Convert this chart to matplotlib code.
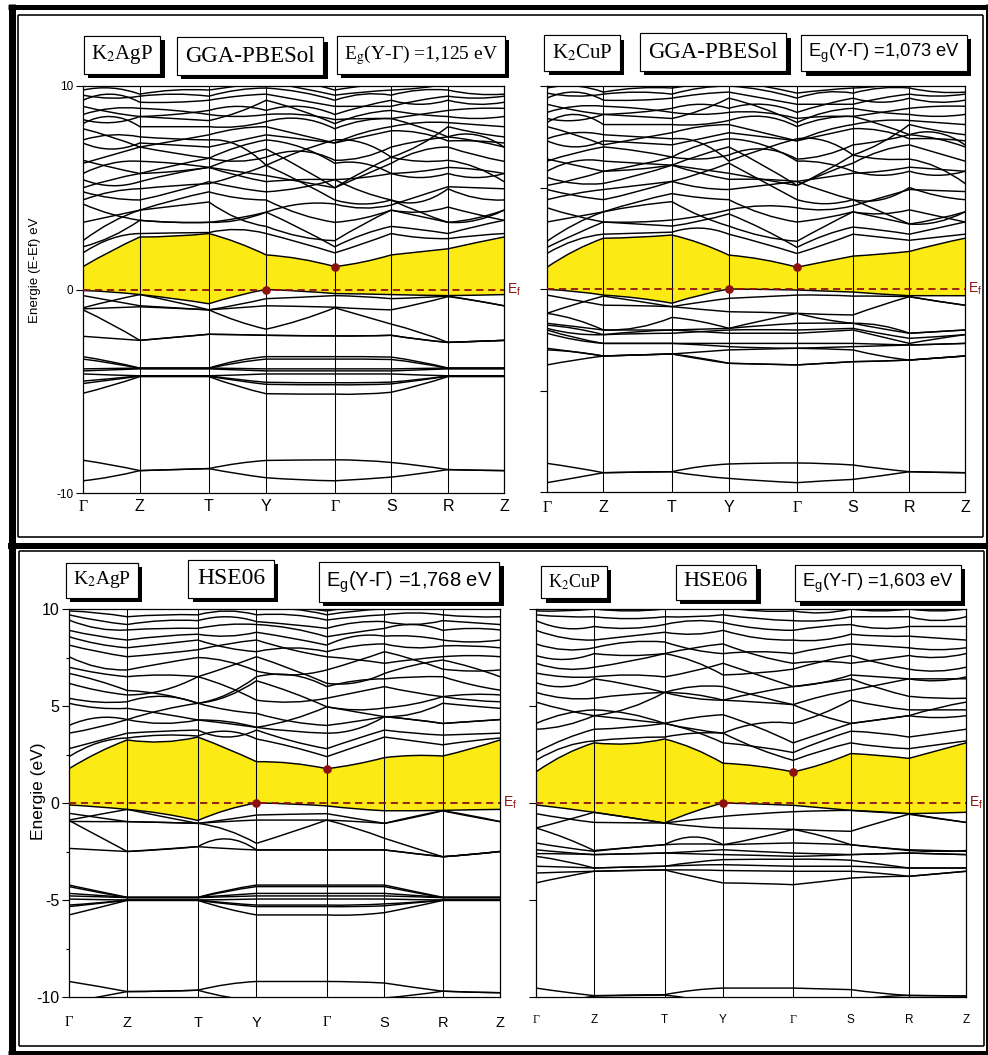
import matplotlib
matplotlib.use("Agg")
import matplotlib.pyplot as plt
from matplotlib.path import Path
from matplotlib.patches import PathPatch
from matplotlib.lines import Line2D
import matplotlib.patheffects as pe
import matplotlib.transforms as mtransforms
from matplotlib.ticker import MultipleLocator

plt.rcParams['font.family'] = ['Liberation Sans', 'DejaVu Sans']
plt.rcParams['mathtext.fontset'] = 'custom'
plt.rcParams['mathtext.rm'] = 'Liberation Sans'
plt.rcParams['mathtext.it'] = 'Liberation Sans:italic'
plt.rcParams['mathtext.bf'] = 'Liberation Sans:bold'

# ---------------------------------------------------------------------------
# k-path (fractional distance along the path) and labels
K_FRAC = [0.0, 0.135, 0.299, 0.435, 0.598, 0.732, 0.867, 1.0]
K_LABELS = ['Γ', 'Z', 'T', 'Y', 'Γ', 'S', 'R', 'Z']

# band gaps (eV), Y -> Gamma
EG_AGP_GGA = 1.125
EG_CUP_GGA = 1.073
EG_AGP_HSE = 1.768
EG_CUP_HSE = 1.603

# Each band: energies at Γ, mid, Z, mid, T, mid, Y, mid, Γ, mid, S, mid, R, mid, Z
# ---------------------------------------------------------------- K2AgP GGA
AGP_GGA_CB = [
    [EG_AGP_GGA, 1.90, 2.58, 2.62, 2.75, 2.30, 1.70, 1.50, EG_AGP_GGA, 1.35, 1.70, 1.85, 2.00, 2.30, 2.58],
    [1.80, 2.50, 2.75, 2.78, 2.80, 2.95, 2.75, 2.30, 1.80, 2.25, 2.75, 2.55, 2.50, 2.65, 2.75],
    [2.10, 2.60, 3.40, 3.30, 3.30, 3.40, 3.80, 3.00, 2.10, 2.70, 3.10, 2.95, 2.75, 3.10, 3.40],
    [2.40, 3.30, 3.90, 4.10, 4.30, 3.50, 3.10, 2.60, 2.40, 3.20, 3.90, 3.60, 3.30, 3.50, 3.90],
    [3.30, 3.60, 3.90, 4.40, 4.80, 4.50, 4.40, 3.70, 3.30, 3.50, 3.90, 3.80, 4.05, 3.70, 3.40],
    [4.20, 3.70, 3.40, 3.30, 3.30, 3.50, 3.80, 4.20, 4.20, 4.00, 4.15, 4.60, 5.05, 5.00, 4.95],
    [4.40, 4.80, 4.95, 5.10, 5.20, 5.60, 6.10, 5.30, 4.40, 4.20, 4.40, 3.80, 3.30, 3.40, 3.90],
    [4.80, 4.50, 4.40, 4.80, 5.30, 5.00, 4.80, 5.00, 5.40, 5.50, 5.70, 5.80, 6.00, 5.90, 5.70],
    [5.00, 5.40, 5.70, 5.80, 6.00, 5.60, 5.30, 5.40, 5.40, 4.80, 4.40, 4.30, 4.95, 4.50, 4.40],
    [5.40, 5.10, 5.30, 5.70, 6.00, 6.50, 6.90, 6.00, 5.00, 5.80, 6.50, 6.30, 6.35, 6.00, 5.30],
    [5.70, 6.20, 6.30, 6.20, 6.00, 5.80, 5.60, 5.30, 5.00, 5.60, 6.20, 6.80, 7.00, 6.60, 6.30],
    [6.20, 6.60, 7.00, 6.70, 6.45, 6.30, 6.50, 6.80, 6.35, 6.50, 7.00, 7.30, 7.50, 7.30, 7.00],
    [6.35, 6.00, 5.70, 6.10, 6.45, 7.00, 7.35, 7.00, 6.20, 6.20, 5.70, 5.50, 5.70, 5.50, 5.70],
    [7.20, 6.90, 7.20, 7.10, 7.00, 7.30, 7.60, 7.40, 7.20, 7.50, 7.80, 7.70, 7.30, 7.30, 7.20],
    [7.35, 7.60, 7.50, 7.40, 7.35, 7.10, 6.10, 6.80, 7.35, 7.20, 6.50, 7.10, 8.00, 7.70, 7.50],
    [7.90, 7.50, 7.00, 7.30, 7.60, 7.90, 8.00, 7.60, 7.20, 7.70, 8.00, 8.20, 8.20, 8.10, 8.00],
    [8.15, 8.50, 8.00, 8.00, 8.00, 8.00, 8.25, 8.40, 7.90, 8.30, 8.40, 8.00, 7.50, 7.60, 7.00],
    [8.35, 8.20, 8.50, 8.40, 8.30, 8.70, 9.30, 8.80, 8.15, 8.60, 8.80, 8.60, 8.50, 8.40, 8.50],
    [8.60, 8.90, 8.90, 8.80, 8.60, 8.50, 8.60, 8.60, 8.35, 8.40, 8.40, 8.60, 8.80, 8.90, 8.90],
    [9.00, 8.70, 8.50, 8.60, 8.80, 9.00, 8.80, 9.00, 8.60, 9.00, 9.30, 9.10, 9.30, 9.10, 9.20],
    [9.30, 9.60, 9.20, 9.20, 9.30, 9.50, 9.60, 9.30, 9.00, 9.00, 9.00, 9.30, 9.50, 9.40, 9.50],
    [9.55, 9.40, 9.50, 9.60, 9.50, 9.80, 9.90, 9.70, 9.30, 9.60, 9.55, 9.80, 9.80, 9.60, 9.60],
    [9.80, 9.90, 9.60, 9.80, 9.80, 10.0, 10.2, 9.90, 9.55, 9.70, 9.80, 9.90, 10.1, 10.0, 10.1],
    [10.1, 10.2, 10.1, 10.0, 10.1, 10.2, 10.4, 10.2, 9.80, 10.0, 10.1, 10.2, 10.3, 10.2, 10.1],
]
AGP_GGA_VB = [
    [-0.05, -0.12, -0.25, -0.45, -0.70, -0.30, 0.00, -0.08, -0.20, -0.22, -0.25, -0.28, -0.30, -0.28, -0.25],
    [-0.30, -0.55, -0.80, -0.90, -1.00, -0.75, -0.45, -0.38, -0.30, -0.35, -0.45, -0.40, -0.32, -0.55, -0.80],
    [-0.90, -0.55, -0.25, -0.60, -1.00, -1.55, -1.95, -1.50, -0.90, -1.30, -1.70, -2.10, -2.60, -2.55, -2.50],
    [-0.95, -0.90, -0.85, -0.92, -1.00, -0.90, -0.80, -0.83, -0.87, -0.95, -1.00, -0.70, -0.35, -0.55, -0.80],
    [-1.00, -1.70, -2.50, -2.35, -2.20, -2.22, -2.25, -2.27, -2.28, -2.28, -2.25, -2.45, -2.60, -2.55, -2.50],
    [-2.30, -2.40, -2.50, -2.35, -2.20, -2.22, -2.25, -2.27, -2.28, -2.28, -2.25, -2.45, -2.60, -2.55, -2.50],
]
AGP_GGA_CORE = [
    [-3.30, -3.55, -3.86, -3.86, -3.86, -3.50, -3.30, -3.30, -3.30, -3.30, -3.32, -3.55, -3.86, -3.86, -3.86],
    [-3.42, -3.62, -3.88, -3.88, -3.88, -3.60, -3.42, -3.42, -3.42, -3.42, -3.44, -3.62, -3.88, -3.88, -3.88],
    [-3.90, -3.88, -3.86, -3.86, -3.86, -3.88, -3.90, -3.90, -3.90, -3.90, -3.90, -3.88, -3.86, -3.86, -3.86],
    [-4.00, -3.95, -3.90, -3.90, -3.90, -3.95, -4.00, -4.00, -4.00, -4.00, -4.00, -3.95, -3.90, -3.90, -3.90],
    [-4.15, -4.20, -4.24, -4.24, -4.24, -4.20, -4.15, -4.15, -4.15, -4.15, -4.15, -4.20, -4.24, -4.24, -4.24],
    [-4.50, -4.38, -4.24, -4.24, -4.24, -4.42, -4.56, -4.58, -4.58, -4.58, -4.55, -4.42, -4.24, -4.24, -4.24],
    [-4.62, -4.44, -4.26, -4.26, -4.26, -4.48, -4.66, -4.68, -4.68, -4.68, -4.64, -4.46, -4.26, -4.26, -4.26],
    [-5.10, -4.72, -4.28, -4.28, -4.28, -4.75, -5.12, -5.14, -5.14, -5.14, -5.05, -4.70, -4.28, -4.28, -4.28],
    [-8.39, -8.62, -8.90, -8.85, -8.80, -8.55, -8.40, -8.38, -8.37, -8.40, -8.50, -8.65, -8.85, -8.88, -8.90],
    [-9.40, -9.20, -8.90, -8.85, -8.80, -9.05, -9.25, -9.35, -9.40, -9.32, -9.22, -9.05, -8.85, -8.88, -8.90],
]

# ---------------------------------------------------------------- K2CuP GGA
CUP_GGA_CB = [
    [EG_CUP_GGA, 1.90, 2.50, 2.55, 2.66, 2.25, 1.67, 1.45, EG_CUP_GGA, 1.35, 1.62, 1.72, 1.85, 2.20, 2.50],
    [1.75, 2.40, 2.70, 2.75, 2.80, 3.00, 2.70, 2.25, 1.75, 2.20, 2.70, 2.55, 2.40, 2.55, 2.70],
    [2.05, 2.70, 3.30, 3.20, 3.10, 3.35, 3.70, 2.95, 2.05, 2.65, 3.05, 2.90, 2.70, 3.00, 3.30],
    [2.35, 3.20, 3.80, 4.10, 4.30, 3.60, 3.10, 2.60, 2.35, 3.10, 3.80, 3.50, 3.20, 3.45, 3.80],
    [3.30, 3.55, 3.80, 4.30, 4.70, 4.50, 4.40, 3.70, 3.30, 3.50, 3.80, 3.70, 3.90, 3.60, 3.30],
    [4.00, 3.60, 3.30, 3.30, 3.40, 3.60, 3.90, 4.10, 4.00, 3.90, 4.10, 4.50, 4.90, 4.85, 4.80],
    [4.40, 4.70, 4.90, 5.10, 5.30, 5.70, 6.20, 5.30, 4.40, 4.20, 4.40, 3.80, 3.20, 3.30, 3.80],
    [4.90, 4.60, 4.40, 4.80, 5.30, 5.00, 4.90, 5.10, 5.30, 5.50, 5.70, 5.80, 6.00, 5.90, 5.80],
    [5.10, 5.40, 5.80, 5.90, 6.10, 5.70, 5.40, 5.40, 5.30, 4.80, 4.40, 4.40, 5.00, 4.60, 4.40],
    [5.50, 5.20, 5.20, 5.60, 6.10, 6.60, 7.00, 6.10, 5.10, 5.80, 6.60, 6.40, 6.40, 6.00, 5.20],
    [5.80, 6.30, 6.30, 6.20, 6.10, 5.90, 5.70, 5.40, 5.10, 5.70, 6.20, 6.80, 7.10, 6.70, 6.30],
    [6.30, 6.70, 7.00, 6.80, 6.50, 6.40, 6.60, 6.90, 6.40, 6.60, 7.10, 7.30, 7.60, 7.40, 7.00],
    [6.40, 6.10, 5.80, 6.10, 6.50, 7.10, 7.40, 7.10, 6.30, 6.20, 5.80, 5.60, 5.80, 5.60, 5.80],
    [7.30, 7.00, 7.30, 7.20, 7.10, 7.40, 7.70, 7.50, 7.30, 7.60, 7.90, 7.80, 7.40, 7.40, 7.30],
    [7.40, 7.70, 7.60, 7.50, 7.40, 7.20, 6.30, 6.90, 7.40, 7.30, 6.60, 7.20, 8.10, 7.80, 7.60],
    [8.00, 7.60, 7.10, 7.40, 7.70, 8.00, 8.10, 7.70, 7.30, 7.80, 8.10, 8.30, 8.30, 8.20, 8.10],
    [8.20, 8.60, 8.10, 8.10, 8.10, 8.10, 8.30, 8.50, 8.00, 8.40, 8.50, 8.10, 7.60, 7.70, 7.10],
    [8.40, 8.30, 8.60, 8.50, 8.40, 8.80, 9.40, 8.90, 8.20, 8.70, 8.90, 8.70, 8.60, 8.50, 8.60],
    [8.70, 9.00, 9.00, 8.90, 8.70, 8.60, 8.70, 8.70, 8.40, 8.50, 8.50, 8.70, 8.90, 9.00, 9.00],
    [9.10, 8.80, 8.60, 8.70, 8.90, 9.10, 8.90, 9.10, 8.70, 9.10, 9.40, 9.20, 9.40, 9.20, 9.30],
    [9.40, 9.70, 9.30, 9.30, 9.40, 9.60, 9.70, 9.40, 9.10, 9.10, 9.10, 9.40, 9.60, 9.50, 9.60],
    [9.65, 9.50, 9.60, 9.70, 9.60, 9.90, 10.0, 9.80, 9.40, 9.70, 9.65, 9.90, 9.90, 9.70, 9.70],
    [9.90, 10.0, 9.70, 9.90, 9.90, 10.1, 10.3, 10.0, 9.65, 9.80, 9.90, 10.0, 10.2, 10.1, 10.2],
]
CUP_GGA_VB = [
    [-0.02, -0.12, -0.30, -0.45, -0.70, -0.30, 0.00, -0.02, -0.05, -0.10, -0.15, -0.25, -0.33, -0.33, -0.33],
    [-0.30, -0.55, -0.80, -0.82, -0.87, -0.65, -0.46, -0.38, -0.30, -0.30, -0.35, -0.35, -0.38, -0.60, -0.80],
    [-1.20, -0.75, -0.35, -0.60, -0.87, -1.00, -1.12, -1.15, -1.20, -1.25, -1.28, -0.80, -0.38, -0.60, -0.80],
    [-1.20, -1.50, -2.02, -1.90, -1.40, -1.60, -1.94, -1.55, -1.20, -1.50, -1.69, -1.80, -2.18, -2.10, -2.02],
]
CUP_GGA_CORE = [
    [-1.69, -1.85, -2.02, -2.02, -2.02, -1.98, -1.94, -1.80, -1.69, -1.68, -1.69, -1.95, -2.18, -2.10, -2.02],
    [-1.78, -1.95, -2.25, -2.20, -2.18, -2.10, -2.02, -2.00, -2.02, -1.98, -1.94, -2.20, -2.43, -2.35, -2.25],
    [-1.94, -2.20, -2.25, -2.10, -2.02, -2.10, -2.18, -2.18, -2.18, -2.10, -2.02, -2.35, -2.68, -2.45, -2.25],
    [-2.02, -2.40, -2.68, -2.68, -2.68, -2.68, -2.68, -2.68, -2.68, -2.68, -2.68, -2.72, -2.76, -2.72, -2.68],
    [-2.18, -2.50, -2.68, -2.68, -2.68, -2.75, -2.84, -2.90, -2.92, -2.88, -2.84, -2.80, -2.76, -2.72, -2.68],
    [-2.92, -3.10, -3.30, -3.25, -3.20, -3.10, -3.00, -2.96, -2.92, -2.95, -3.00, -3.30, -3.50, -3.40, -3.30],
    [-3.00, -3.10, -3.30, -3.25, -3.20, -3.40, -3.66, -3.70, -3.74, -3.66, -3.58, -3.55, -3.50, -3.40, -3.30],
    [-3.74, -3.50, -3.30, -3.25, -3.20, -3.45, -3.66, -3.70, -3.74, -3.66, -3.58, -3.55, -3.50, -3.40, -3.30],
    [-8.59, -8.80, -9.05, -9.02, -9.00, -8.75, -8.62, -8.58, -8.57, -8.60, -8.67, -8.85, -9.00, -9.03, -9.05],
    [-9.54, -9.30, -9.05, -9.02, -9.00, -9.20, -9.33, -9.45, -9.54, -9.45, -9.38, -9.20, -9.00, -9.03, -9.05],
]

# ---------------------------------------------------------------- K2AgP HSE06
AGP_HSE_CB = [
    [EG_AGP_HSE, 2.60, 3.25, 3.15, 3.40, 2.80, 2.13, 2.05, EG_AGP_HSE, 2.00, 2.34, 2.45, 2.42, 2.80, 3.25],
    [2.39, 3.10, 3.35, 3.50, 3.45, 3.70, 3.30, 2.90, 2.39, 2.90, 3.40, 3.20, 3.00, 3.20, 3.35],
    [2.80, 3.20, 3.60, 3.70, 3.76, 3.40, 3.76, 3.20, 2.80, 3.30, 3.76, 3.60, 3.50, 3.55, 3.60],
    [3.60, 3.90, 4.30, 4.10, 4.28, 4.20, 3.90, 3.70, 3.60, 3.80, 4.45, 4.30, 4.10, 4.20, 4.30],
    [4.00, 4.40, 4.30, 4.80, 5.14, 4.80, 4.62, 4.20, 4.00, 4.20, 4.45, 4.30, 4.10, 4.20, 4.30],
    [5.14, 4.90, 4.88, 4.60, 4.28, 4.10, 3.90, 4.30, 4.96, 4.80, 4.90, 5.10, 5.48, 5.30, 5.22],
    [5.40, 5.20, 5.22, 5.50, 5.14, 5.50, 6.30, 5.70, 4.96, 4.70, 4.45, 4.60, 5.14, 5.00, 4.88],
    [6.17, 5.80, 5.57, 5.80, 6.51, 6.00, 5.30, 5.20, 5.40, 5.70, 6.00, 5.70, 5.48, 5.60, 5.57],
    [6.68, 6.30, 5.80, 5.60, 5.14, 5.60, 6.51, 6.60, 6.00, 6.30, 6.40, 6.50, 6.51, 6.10, 5.82],
    [7.00, 6.70, 6.51, 6.60, 6.51, 7.00, 7.54, 6.90, 6.17, 6.20, 6.68, 7.10, 7.37, 7.00, 6.51],
    [7.54, 7.00, 6.86, 7.20, 7.50, 7.30, 6.80, 6.60, 6.86, 7.30, 7.80, 7.40, 6.90, 6.80, 6.86],
    [8.14, 7.80, 7.54, 7.70, 7.90, 8.20, 8.40, 7.90, 7.54, 7.40, 7.20, 7.40, 7.54, 7.60, 7.54],
    [8.57, 8.20, 8.00, 8.20, 8.40, 8.00, 7.80, 8.00, 7.80, 8.10, 8.20, 8.00, 8.10, 8.10, 8.00],
    [8.90, 8.60, 8.40, 8.60, 8.70, 8.60, 8.80, 8.50, 8.14, 8.60, 8.60, 8.60, 8.40, 8.30, 8.40],
    [9.43, 9.00, 8.92, 9.00, 9.00, 9.20, 9.20, 9.00, 8.57, 8.80, 9.00, 9.20, 8.90, 9.00, 8.92],
    [9.70, 9.40, 9.20, 9.40, 9.40, 9.60, 9.35, 9.20, 9.00, 9.30, 9.35, 9.20, 9.40, 9.30, 9.20],
    [9.90, 9.80, 9.60, 9.70, 9.70, 9.90, 9.70, 9.70, 9.43, 9.60, 9.70, 9.80, 9.70, 9.60, 9.60],
    [10.1, 10.1, 10.1, 10.0, 10.0, 10.1, 10.0, 10.0, 9.70, 9.90, 10.0, 10.1, 10.0, 10.0, 10.1],
    [10.3, 10.2, 10.3, 10.3, 10.3, 10.3, 10.2, 10.1, 9.90, 10.1, 10.2, 10.3, 10.2, 10.3, 10.3],
]
AGP_HSE_VB = [
    [-0.10, -0.20, -0.33, -0.55, -0.90, -0.35, 0.00, -0.05, -0.15, -0.30, -0.40, -0.40, -0.38, -0.35, -0.33],
    [-0.53, -0.75, -0.96, -1.00, -1.05, -0.85, -0.62, -0.58, -0.55, -0.80, -1.05, -0.70, -0.40, -0.70, -0.96],
    [-0.88, -0.60, -0.33, -0.70, -1.05, -1.40, -2.08, -1.50, -0.88, -1.30, -1.82, -2.30, -2.77, -2.65, -2.50],
    [-0.95, -0.96, -0.96, -1.00, -1.05, -0.95, -0.88, -0.88, -0.88, -0.95, -1.05, -0.75, -0.40, -0.65, -0.96],
    [-0.90, -1.70, -2.50, -2.40, -2.25, -1.85, -2.42, -2.42, -2.42, -2.42, -2.42, -2.60, -2.77, -2.65, -2.50],
    [-2.34, -2.42, -2.50, -2.38, -2.25, -2.35, -2.42, -2.42, -2.42, -2.42, -2.42, -2.60, -2.77, -2.65, -2.50],
]
AGP_HSE_CORE = [
    [-4.23, -4.55, -4.86, -4.86, -4.86, -4.50, -4.23, -4.23, -4.23, -4.23, -4.23, -4.55, -4.86, -4.86, -4.86],
    [-4.31, -4.60, -4.88, -4.88, -4.88, -4.55, -4.31, -4.31, -4.31, -4.31, -4.31, -4.60, -4.88, -4.88, -4.88],
    [-4.66, -4.76, -4.86, -4.86, -4.86, -4.76, -4.66, -4.66, -4.66, -4.66, -4.66, -4.76, -4.86, -4.86, -4.86],
    [-4.79, -4.83, -4.88, -4.88, -4.88, -4.83, -4.79, -4.79, -4.79, -4.79, -4.79, -4.83, -4.88, -4.88, -4.88],
    [-4.95, -4.98, -5.00, -5.00, -5.00, -4.98, -4.95, -4.95, -4.95, -4.95, -4.95, -4.98, -5.00, -5.00, -5.00],
    [-5.26, -5.15, -5.00, -5.00, -5.00, -5.15, -5.26, -5.26, -5.26, -5.26, -5.20, -5.12, -5.00, -5.00, -5.00],
    [-5.34, -5.18, -5.02, -5.02, -5.02, -5.20, -5.34, -5.34, -5.34, -5.34, -5.30, -5.15, -5.02, -5.02, -5.02],
    [-5.77, -5.40, -5.02, -5.02, -5.02, -5.45, -5.77, -5.77, -5.77, -5.77, -5.65, -5.35, -5.02, -5.02, -5.02],
    [-9.20, -9.45, -9.72, -9.70, -9.65, -9.35, -9.20, -9.20, -9.20, -9.22, -9.28, -9.50, -9.70, -9.75, -9.78],
    [-10.3, -10.0, -9.72, -9.70, -9.65, -10.0, -10.2, -10.3, -10.3, -10.2, -10.05, -9.90, -9.70, -9.75, -9.78],
]

# ---------------------------------------------------------------- K2CuP HSE06
CUP_HSE_CB = [
    [EG_CUP_HSE, 2.50, 3.10, 3.05, 3.30, 2.80, 2.05, 1.90, EG_CUP_HSE, 2.00, 2.55, 2.45, 2.30, 2.70, 3.10],
    [2.20, 2.90, 3.20, 3.35, 3.40, 3.60, 3.60, 2.80, 2.20, 2.70, 3.10, 2.90, 2.80, 3.00, 3.20],
    [2.60, 3.30, 3.80, 3.90, 4.10, 3.70, 3.10, 2.90, 2.60, 3.20, 3.70, 3.60, 3.40, 3.60, 3.80],
    [3.80, 4.00, 4.50, 4.30, 4.10, 4.40, 4.55, 3.90, 3.10, 3.60, 4.10, 4.30, 4.50, 4.40, 4.50],
    [4.10, 4.60, 4.80, 4.60, 4.10, 3.80, 3.60, 4.10, 4.10, 4.60, 5.30, 5.00, 4.80, 4.80, 4.80],
    [5.20, 4.80, 4.50, 4.90, 5.70, 5.60, 5.30, 5.20, 5.07, 4.50, 4.10, 4.30, 4.50, 4.90, 5.20],
    [5.70, 5.40, 5.40, 5.60, 5.70, 5.40, 5.30, 5.70, 6.00, 6.20, 6.40, 5.90, 5.50, 5.40, 5.40],
    [6.20, 6.00, 6.40, 6.10, 5.70, 6.00, 6.00, 5.50, 5.07, 5.50, 5.80, 6.10, 6.40, 6.40, 6.40],
    [6.70, 6.50, 6.50, 6.60, 6.50, 6.80, 7.20, 6.60, 6.00, 6.20, 6.60, 6.50, 6.40, 6.30, 6.50],
    [7.20, 6.90, 7.00, 7.30, 7.70, 7.30, 6.60, 6.70, 6.90, 7.30, 7.60, 7.20, 6.90, 6.80, 7.00],
    [7.60, 7.40, 7.70, 7.60, 7.70, 8.00, 8.20, 7.60, 7.20, 7.30, 7.20, 7.40, 7.60, 7.50, 7.70],
    [8.20, 7.90, 8.00, 8.30, 8.30, 7.90, 7.70, 7.80, 7.70, 8.00, 8.20, 8.10, 8.00, 7.90, 8.00],
    [8.90, 8.50, 8.40, 8.60, 8.80, 8.70, 8.90, 8.50, 8.40, 8.40, 8.70, 8.60, 8.60, 8.50, 8.40],
    [9.40, 9.00, 9.10, 9.00, 9.20, 9.40, 9.30, 9.00, 8.90, 9.10, 9.20, 9.00, 9.10, 9.10, 9.10],
    [9.70, 9.60, 9.60, 9.50, 9.60, 9.60, 9.70, 9.50, 9.40, 9.40, 9.60, 9.60, 9.60, 9.40, 9.60],
    [9.90, 9.90, 10.0, 9.90, 10.0, 10.1, 10.1, 9.90, 9.90, 9.80, 10.0, 9.90, 10.0, 9.90, 10.0],
    [10.2, 10.2, 10.3, 10.2, 10.3, 10.3, 10.4, 10.2, 10.1, 10.1, 10.3, 10.2, 10.3, 10.2, 10.3],
]
CUP_HSE_VB = [
    [-0.10, -0.28, -0.48, -0.75, -1.03, -0.45, 0.00, -0.05, -0.12, -0.25, -0.38, -0.48, -0.55, -0.52, -0.48],
    [-0.55, -0.80, -1.00, -1.02, -1.03, -0.85, -0.69, -0.55, -0.45, -0.40, -0.38, -0.45, -0.55, -0.78, -1.00],
    [-1.29, -0.90, -0.48, -0.75, -1.03, -1.20, -1.29, -1.32, -1.36, -1.42, -1.46, -1.00, -0.58, -0.80, -1.00],
    [-1.29, -1.80, -2.45, -2.30, -2.15, -1.75, -2.15, -1.80, -1.36, -1.70, -2.15, -2.30, -2.45, -2.50, -2.45],
]
CUP_HSE_CORE = [
    [-2.06, -2.30, -2.49, -2.30, -2.15, -2.10, -2.15, -2.10, -2.06, -2.10, -2.15, -2.30, -2.41, -2.45, -2.49],
    [-2.41, -2.55, -2.66, -2.62, -2.58, -2.50, -2.41, -2.50, -2.58, -2.62, -2.66, -2.62, -2.58, -2.62, -2.66],
    [-2.61, -2.62, -2.66, -2.62, -2.58, -2.62, -2.66, -2.70, -2.75, -2.72, -2.66, -2.62, -2.58, -2.62, -2.66],
    [-2.75, -3.00, -3.35, -3.30, -3.26, -3.05, -2.92, -2.90, -2.90, -2.90, -2.95, -3.15, -3.35, -3.35, -3.35],
    [-3.26, -3.30, -3.35, -3.30, -3.26, -3.20, -3.18, -3.22, -3.26, -3.26, -3.26, -3.30, -3.35, -3.35, -3.35],
    [-3.61, -3.56, -3.52, -3.48, -3.45, -3.45, -3.48, -3.50, -3.52, -3.52, -3.52, -3.62, -3.78, -3.65, -3.52],
    [-4.12, -3.80, -3.52, -3.48, -3.45, -3.80, -4.12, -4.15, -4.21, -4.05, -3.87, -3.80, -3.78, -3.65, -3.52],
    [-9.54, -9.75, -9.93, -9.90, -9.88, -9.65, -9.54, -9.54, -9.54, -9.58, -9.62, -9.80, -9.92, -9.93, -9.95],
    [-10.4, -10.2, -9.95, -9.92, -9.90, -10.1, -10.4, -10.4, -10.4, -10.3, -10.2, -10.0, -9.92, -9.94, -9.95],
]

# ---------------------------------------------------------------------------
W, H = 988, 1055
fig = plt.figure(figsize=(W / 100, H / 100), dpi=100)

BAND_LW = 1.05
FILL_COLOR = '#FBEA14'
EF_COLOR = '#8E1111'


def fx(x):
    return x / W


def fy(y):
    return 1 - y / H


def axes_rect(x0, y0, x1, y1):
    return [fx(x0), fy(y1), (x1 - x0) / W, (y1 - y0) / H]


def node_positions():
    xs = []
    for i in range(len(K_FRAC) - 1):
        xs.append(K_FRAC[i])
        xs.append(0.5 * (K_FRAC[i] + K_FRAC[i + 1]))
    xs.append(K_FRAC[-1])
    return xs


XN = node_positions()


def band_path(energies):
    """Quadratic Bezier pieces: one parabola per path segment through 3 nodes."""
    verts = [(XN[0], energies[0])]
    codes = [Path.MOVETO]
    for i in range(0, len(XN) - 1, 2):
        xa, xm, xb = XN[i], XN[i + 1], XN[i + 2]
        ya, ym, yb = energies[i], energies[i + 1], energies[i + 2]
        verts.append((2 * xm - 0.5 * (xa + xb), 2 * ym - 0.5 * (ya + yb)))
        verts.append((xb, yb))
        codes += [Path.CURVE3, Path.CURVE3]
    return verts, codes


def gap_patch(cb_low, vb_top):
    v1, c1 = band_path(cb_low)
    v2, c2 = band_path(vb_top)
    v2 = v2[::-1]
    verts = v1 + v2 + [v1[0]]
    codes = c1 + [Path.LINETO] + c2[1:] + [Path.CLOSEPOLY]
    return PathPatch(Path(verts, codes), facecolor=FILL_COLOR, edgecolor='none', zorder=1)


def draw_panel(rect, cb, vb, core, yticks, ylabels, minor, xlab_size, xlab_pad,
               ytick_size, ylabel=None, ylabel_xy=None, ylabel_size=10):
    ax = fig.add_axes(axes_rect(*rect))
    ax.set_xlim(0, 1)
    ax.set_ylim(-10, 10)
    ax.add_patch(gap_patch(cb[0], vb[0]))
    for band in cb + vb + core:
        v, c = band_path(band)
        ax.add_patch(PathPatch(Path(v, c), fill=False, edgecolor='black',
                               lw=BAND_LW, capstyle='round', joinstyle='round', zorder=3))
    for xk in K_FRAC[1:-1]:
        ax.axvline(xk, color='black', lw=0.75, zorder=2)
    ax.axhline(0, color=EF_COLOR, lw=1.3, ls=(0, (4.0, 2.6)), zorder=4)
    # band edges: VBM at Y, CBM at Gamma
    ax.plot([K_FRAC[3]], [vb[0][6]], 'o', color=EF_COLOR, ms=5.2, zorder=5, clip_on=False)
    ax.plot([K_FRAC[4]], [cb[0][8]], 'o', color=EF_COLOR, ms=5.2, zorder=5, clip_on=False)
    tr = mtransforms.blended_transform_factory(ax.transAxes, ax.transData)
    ax.text(1.008, 0, r'E$_\mathrm{f}$', transform=tr, color=EF_COLOR, fontsize=10,
            ha='left', va='center')

    ax.set_xticks(K_FRAC)
    ax.set_xticklabels(K_LABELS, fontsize=xlab_size)
    for lab in ax.get_xticklabels():
        if lab.get_text() == 'Γ':
            lab.set_fontfamily(['Liberation Serif', 'DejaVu Serif'])
    ax.tick_params(axis='x', length=0, pad=xlab_pad)
    ax.set_yticks(yticks)
    ax.set_yticklabels(ylabels, fontsize=ytick_size)
    ax.tick_params(axis='y', direction='out', length=5, width=0.8, pad=2)
    if minor:
        ax.yaxis.set_minor_locator(MultipleLocator(minor))
        ax.tick_params(axis='y', which='minor', direction='out', length=2.5, width=0.8)
    for s in ax.spines.values():
        s.set_linewidth(0.9)
    if ylabel:
        ax.set_ylabel(ylabel, fontsize=ylabel_size, va='center')
        ax.yaxis.set_label_coords(*ylabel_xy)
    return ax


draw_panel((83, 86, 504, 493), AGP_GGA_CB, AGP_GGA_VB, AGP_GGA_CORE,
           [-10, 0, 10], ['-10', '0', '10'], None, 11.5, 4, 8.5,
           'Energie (E-Ef) eV', ((35 - 83) / 421, (493 - 270) / 407), 9.6)
draw_panel((547, 86, 965, 492), CUP_GGA_CB, CUP_GGA_VB, CUP_GGA_CORE,
           [-10, -5, 0, 5, 10], [''] * 5, None, 11.5, 6, 8.5)
draw_panel((69, 609, 500, 997), AGP_HSE_CB, AGP_HSE_VB, AGP_HSE_CORE,
           [-10, -5, 0, 5, 10], ['-10', '-5', '0', '5', '10'], 2.5, 10.5, 14, 11.5,
           'Energie (eV)', ((38.5 - 69) / 431, (997 - 791) / 388), 12.5)
draw_panel((536, 609, 966, 997), CUP_HSE_CB, CUP_HSE_VB, CUP_HSE_CORE,
           [-10, -5, 0, 5, 10], [''] * 5, None, 8.5, 12, 8.5)


# ---------------------------------------------------------------- header boxes
def header(x, y, text, size, serif=True):
    fam = ['Liberation Serif', 'DejaVu Serif'] if serif else ['Liberation Sans', 'DejaVu Sans']
    t = fig.text(fx(x), fy(y), text, ha='center', va='center', fontsize=size, family=fam,
                 math_fontfamily='stix' if serif else 'custom',
                 bbox=dict(boxstyle='square,pad=0.36', fc='white', ec='black', lw=0.8))
    t.get_bbox_patch().set_path_effects([
        pe.withSimplePatchShadow(offset=(3.2, -3.2), shadow_rgbFace='black', alpha=1.0),
        pe.Normal()])
    return t


def gap_text(eg):
    return r'E$_\mathrm{g}$(Y-Γ) =' + f'{eg:.3f}'.replace('.', ',') + ' eV'


header(122, 55, r'K$_\mathrm{2}$AgP', 15)
header(250, 56, 'GGA-PBESol', 16.5)
header(421, 55, gap_text(EG_AGP_GGA), 14)

header(582, 53, r'K$_\mathrm{2}$CuP', 15)
header(713, 52, 'GGA-PBESol', 16.5)
header(884, 53, gap_text(EG_CUP_GGA), 13.2, serif=False)

header(102, 580, r'K$_\mathrm{2}$AgP', 14)
header(231, 579, 'HSE06', 17)
header(409, 582, gap_text(EG_AGP_HSE), 14.5, serif=False)

header(574, 582, r'K$_\mathrm{2}$CuP', 13)
header(716, 582, 'HSE06', 16)
header(878, 583, gap_text(EG_CUP_HSE), 13.2, serif=False)


# ---------------------------------------------------------------- frames
def hline(y, x0, x1, lw_px):
    fig.add_artist(Line2D([fx(x0), fx(x1)], [fy(y), fy(y)], color='black',
                          lw=lw_px * 0.72, solid_capstyle='butt', transform=fig.transFigure))


def vline(x, y0, y1, lw_px):
    fig.add_artist(Line2D([fx(x), fx(x)], [fy(y0), fy(y1)], color='black',
                          lw=lw_px * 0.72, solid_capstyle='butt', transform=fig.transFigure))


# thick outer borders
vline(11.5, 4, 1055, 7)
hline(6.5, 8, 988, 5)
hline(546, 8, 988, 6)
hline(1052.5, 8, 988, 5)
vline(986.5, 4, 546, 3)
vline(987, 546, 1055, 2)
# thin inner borders
for (x0, y0, x1, y1) in [(18, 15, 983, 537), (19, 551, 984, 1046)]:
    hline(y0, x0, x1, 1.6)
    hline(y1, x0, x1, 1.6)
    vline(x0, y0, y1, 1.6)
    vline(x1, y0, y1, 1.6)

fig.savefig('out.png', dpi=100)
